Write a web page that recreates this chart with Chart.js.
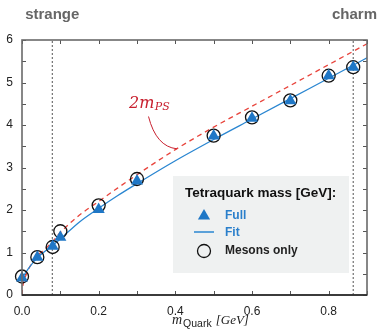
<!DOCTYPE html>
<html>
<head>
<meta charset="utf-8">
<script src="https://cdn.jsdelivr.net/npm/chart.js@4.4.1/dist/chart.umd.min.js"></script>
<style>
  body { margin: 0; background: #fff; }
  #wrap { width: 381px; height: 335px; position: relative; }
</style>
</head>
<body>
<div id="wrap"><canvas id="myChart"></canvas></div>
<script>
// quark masses where the lattice points sit
const quarkMass = [0, 0.04, 0.08, 0.1, 0.2, 0.3, 0.5, 0.6, 0.7, 0.8, 0.864];
const fullMass = [0.40, 0.89, 1.15, 1.36, 2.01, 2.68, 3.74, 4.16, 4.57, 5.16, 5.36];
const mesonMass = [0.435, 0.89, 1.13, 1.50, 2.11, 2.73, 3.75, 4.18, 4.58, 5.16, 5.36];

// fit curve
const fitX = [0, 0.02, 0.04, 0.06, 0.08, 0.1, 0.15, 0.2, 0.25, 0.3, 0.4, 0.5, 0.6, 0.7, 0.8, 0.9];
const fitY = [0.40, 0.66, 0.88, 1.03, 1.17, 1.32, 1.72, 2.04, 2.34, 2.62, 3.16, 3.66, 4.14, 4.62, 5.10, 5.58];

// 2 m_PS threshold
const psX = [0, 0.002, 0.005, 0.01, 0.02, 0.04, 0.06, 0.08, 0.1, 0.15, 0.2, 0.25, 0.3, 0.4, 0.5, 0.6, 0.7, 0.8, 0.9];
const psY = [0, 0.2, 0.33, 0.46, 0.66, 0.92, 1.08, 1.26, 1.47, 1.88, 2.2, 2.52, 2.83, 3.42, 3.95, 4.44, 4.93, 5.42, 5.91];

const strangeX = 0.079;
const charmX = 0.864;

const xTicks = [0, 0.2, 0.4, 0.6, 0.8];
const yTicks = [0, 1, 2, 3, 4, 5, 6];

const blue = '#1f77c6';
const red = '#e8443c';

const pts = (xs, ys) => xs.map((x, i) => ({ x: x, y: ys[i] }));

Chart.defaults.font.family = '"Liberation Sans", Arial, sans-serif';
Chart.defaults.color = '#222';

const framePlugin = {
    id: 'frame',
    beforeDatasetsDraw(chart) {
        const { ctx, chartArea: a, scales } = chart;
        ctx.save();
        // inward ticks
        ctx.strokeStyle = '#555';
        ctx.lineWidth = 1;
        ctx.beginPath();
        scales.x.ticks.forEach(t => {
            const px = Math.round(scales.x.getPixelForValue(t.value)) + 0.5;
            ctx.moveTo(px, a.bottom); ctx.lineTo(px, a.bottom - 4);
            ctx.moveTo(px, a.top); ctx.lineTo(px, a.top + 4);
        });
        scales.y.ticks.forEach(t => {
            const py = Math.round(scales.y.getPixelForValue(t.value)) + 0.5;
            ctx.moveTo(a.left, py); ctx.lineTo(a.left + 4, py);
            ctx.moveTo(a.right, py); ctx.lineTo(a.right - 4, py);
        });
        ctx.stroke();
        ctx.restore();
    },
    afterDraw(chart) {
        const { ctx, chartArea: a, scales } = chart;
        ctx.save();
        // frame
        ctx.strokeStyle = '#6a6a6a';
        ctx.lineWidth = 1.6;
        ctx.strokeRect(a.left, a.top, a.right - a.left, a.bottom - a.top);
        ctx.strokeStyle = '#222';
        ctx.lineWidth = 1.3;
        ctx.beginPath();
        ctx.moveTo(a.left, a.bottom); ctx.lineTo(a.right, a.bottom);
        ctx.stroke();

        // strange / charm labels
        ctx.fillStyle = '#666';
        ctx.font = 'bold 15px "Liberation Sans", Arial, sans-serif';
        ctx.textAlign = 'center';
        ctx.textBaseline = 'alphabetic';
        ctx.fillText('strange', scales.x.getPixelForValue(strangeX), 19);
        ctx.textAlign = 'right';
        ctx.fillText('charm', 377, 19);

        // 2 m_PS annotation
        const ax = scales.x.getPixelForValue(0.279);
        const ay = scales.y.getPixelForValue(4.41);
        ctx.fillStyle = '#c8202f';
        ctx.textAlign = 'left';
        ctx.font = 'italic 16px "DejaVu Serif", serif';
        ctx.fillText('2m', ax, ay);
        const w = ctx.measureText('2m').width;
        ctx.font = 'italic 11px "DejaVu Serif", serif';
        ctx.fillText('PS', ax + w + 0.5, ay + 2);
        ctx.strokeStyle = '#c8202f';
        ctx.lineWidth = 1;
        ctx.beginPath();
        ctx.moveTo(scales.x.getPixelForValue(0.330), scales.y.getPixelForValue(4.2));
        ctx.quadraticCurveTo(scales.x.getPixelForValue(0.35), scales.y.getPixelForValue(3.49),
            scales.x.getPixelForValue(0.404), scales.y.getPixelForValue(3.44));
        ctx.stroke();

        // x axis title
        let tx = 172, ty = 324;
        ctx.fillStyle = '#222';
        ctx.font = 'italic 14px "Liberation Serif", serif';
        ctx.fillText('m', tx, ty);
        tx += ctx.measureText('m').width + 1;
        ctx.font = '10.5px "Liberation Sans", Arial, sans-serif';
        ctx.fillText('Quark', tx, ty + 3);
        tx += ctx.measureText('Quark').width + 4;
        ctx.font = 'italic 13px "Liberation Serif", serif';
        ctx.fillText('[GeV]', tx, ty);

        // legend box
        const lx = 173, ly = 176, lw = 176, lh = 97;
        ctx.fillStyle = '#eff1f1';
        ctx.fillRect(lx, ly, lw, lh);
        ctx.fillStyle = '#111';
        ctx.font = 'bold 13.5px "Liberation Sans", Arial, sans-serif';
        ctx.textBaseline = 'middle';
        ctx.fillText('Tetraquark mass [GeV]:', 185, 193);
        const mx = 204;
        // triangle
        ctx.fillStyle = blue;
        ctx.beginPath();
        ctx.moveTo(mx, 216 - 7);
        ctx.lineTo(mx + 6.1, 216 + 3.5);
        ctx.lineTo(mx - 6.1, 216 + 3.5);
        ctx.closePath();
        ctx.fill();
        // line
        ctx.strokeStyle = '#2a86d1';
        ctx.lineWidth = 1.5;
        ctx.beginPath();
        ctx.moveTo(mx - 10, 232); ctx.lineTo(mx + 10, 232);
        ctx.stroke();
        // circle
        ctx.strokeStyle = '#111';
        ctx.lineWidth = 1.3;
        ctx.beginPath();
        ctx.arc(mx, 251, 6.5, 0, Math.PI * 2);
        ctx.stroke();
        ctx.font = 'bold 12px "Liberation Sans", Arial, sans-serif';
        ctx.fillStyle = '#2a7fcb';
        ctx.fillText('Full', 225, 216);
        ctx.fillText('Fit', 225, 233);
        ctx.fillStyle = '#222';
        ctx.fillText('Mesons only', 225, 251);
        ctx.restore();
    }
};

const ctx = document.getElementById('myChart');
const myChart = new Chart(ctx, {
    type: 'scatter',
    data: {
        datasets: [
            {
                label: 'Full',
                data: pts(quarkMass, fullMass),
                pointStyle: 'triangle',
                pointRadius: 7,
                backgroundColor: blue,
                borderColor: blue,
                borderWidth: 0,
                clip: false,
                order: 0
            },
            {
                label: 'Mesons only',
                data: pts(quarkMass, mesonMass),
                pointStyle: 'circle',
                pointRadius: 6.5,
                backgroundColor: 'rgba(0,0,0,0)',
                borderColor: '#111',
                borderWidth: 1.3,
                clip: false,
                order: 1
            },
            {
                label: 'Fit',
                type: 'line',
                data: pts(fitX, fitY),
                borderColor: '#2a86d1',
                borderWidth: 1.3,
                pointRadius: 0,
                cubicInterpolationMode: 'monotone',
                order: 2
            },
            {
                label: '2mPS',
                type: 'line',
                data: pts(psX, psY),
                borderColor: red,
                borderWidth: 1.3,
                borderDash: [5, 4],
                pointRadius: 0,
                cubicInterpolationMode: 'monotone',
                order: 3
            },
            {
                label: 'strange',
                type: 'line',
                data: [{ x: strangeX, y: 0 }, { x: strangeX, y: 6 }],
                borderColor: '#555',
                borderWidth: 1,
                borderDash: [2, 2],
                pointRadius: 0,
                order: 4
            },
            {
                label: 'charm',
                type: 'line',
                data: [{ x: charmX, y: 0 }, { x: charmX, y: 6 }],
                borderColor: '#555',
                borderWidth: 1,
                borderDash: [2, 2],
                pointRadius: 0,
                order: 4
            }
        ]
    },
    options: {
        responsive: true,
        maintainAspectRatio: false,
        animation: false,
        devicePixelRatio: 1,
        layout: { padding: { top: 40, right: 14, left: 0, bottom: 0 } },
        plugins: {
            legend: { display: false },
            tooltip: { enabled: false }
        },
        scales: {
            x: {
                type: 'linear',
                min: 0,
                max: 0.9,
                grid: { display: false, drawTicks: false },
                border: { display: false },
                afterFit: s => { s.height = 40; },
                ticks: {
                    stepSize: 0.1,
                    padding: 9,
                    font: { size: 12 },
                    color: '#222',
                    maxRotation: 0,
                    autoSkip: false,
                    callback: v => xTicks.some(t => Math.abs(t - v) < 1e-6) ? v.toFixed(1) : ''
                }
            },
            y: {
                type: 'linear',
                min: 0,
                max: 6,
                grid: { display: false, drawTicks: false },
                border: { display: false },
                afterFit: s => { s.width = 22; },
                ticks: {
                    stepSize: 0.5,
                    padding: 9,
                    font: { size: 12 },
                    color: '#222',
                    autoSkip: false,
                    callback: v => yTicks.includes(v) ? String(v) : ''
                }
            }
        }
    },
    plugins: [framePlugin]
});
</script>
</body>
</html>
